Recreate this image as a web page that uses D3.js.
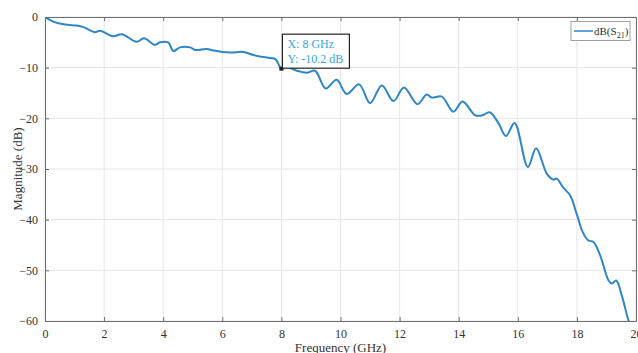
<!DOCTYPE html>
<html>
<head>
<meta charset="utf-8">
<style>
  body { margin: 0; background: #fff; }
  text { font-family: "Liberation Serif", "DejaVu Serif", serif; }
</style>
</head>
<body>
<svg id="chart" width="638" height="353"></svg>
<script src="https://d3js.org/d3.v7.min.js"></script>
<script>
// S21 magnitude
const freq = [0, 0.28, 0.68, 1.07, 1.3, 1.69, 1.86, 2.31, 2.6, 3.1, 3.35, 3.72, 3.89, 4.17, 4.34,
  4.57, 4.91, 5.08, 5.47, 5.7, 6.26, 6.71, 7.05, 7.62, 7.8, 8.0, 8.18, 8.52, 8.86, 9.14,
  9.5, 9.87, 10.21, 10.63, 11.0, 11.4, 11.79, 12.15, 12.6, 12.92, 13.09, 13.43, 13.82, 14.13,
  14.56, 14.8, 15.05, 15.35, 15.6, 15.89, 16.34, 16.62, 16.98, 17.21, 17.32, 17.54, 17.77,
  17.99, 18.2, 18.39, 18.56, 18.79, 19.07, 19.18, 19.33, 19.52, 19.74, 19.85, 20];
const s21 = [0, -0.9, -1.5, -1.7, -2.0, -3.0, -2.7, -3.8, -3.4, -4.9, -4.2, -5.5, -5.0, -5.0, -6.7,
  -6.0, -6.0, -6.5, -6.3, -6.6, -7.0, -6.9, -7.5, -8.1, -8.3, -10.2, -9.8, -10.6, -11.0, -10.6,
  -14.1, -12.4, -15.2, -13.3, -17.0, -13.5, -16.6, -13.9, -17.2, -15.3, -15.9, -15.7, -18.7, -16.7,
  -19.4, -19.4, -18.8, -21.0, -23.5, -20.9, -29.6, -25.9, -30.9, -32.1, -31.9, -33.7, -35.2,
  -38.8, -42.5, -44.1, -44.4, -47.1, -52.0, -52.6, -52.0, -55.0, -59.8, -61.5, -62];
const xTicks = [0, 2, 4, 6, 8, 10, 12, 14, 16, 18, 20];
const yTicks = [0, -10, -20, -30, -40, -50, -60];
const tip = {f: 8, db: -10.2};

const data = freq.map((f, i) => ({f: f, db: s21[i]}));

const margin = {top: 17, right: 2, bottom: 32, left: 45};
const W = 638, H = 353;
const w = W - margin.left - margin.right, h = H - margin.top - margin.bottom;

const svg = d3.select("#chart");
const g = svg.append("g").attr("transform", `translate(${margin.left},${margin.top})`);

const x = d3.scaleLinear().domain([0, 20]).range([0, w]);
const y = d3.scaleLinear().domain([-60, 0]).range([h, 0]);

// grid
g.selectAll(".gx").data(xTicks).enter().append("line")
  .attr("x1", d => x(d)).attr("x2", d => x(d)).attr("y1", 0).attr("y2", h)
  .style("stroke", "#e6e6e6").style("stroke-width", 1);
g.selectAll(".gy").data(yTicks).enter().append("line")
  .attr("x1", 0).attr("x2", w).attr("y1", d => y(d)).attr("y2", d => y(d))
  .style("stroke", "#e6e6e6").style("stroke-width", 1);

// axes (ticks inside, MATLAB style)
const axColor = "#6e6e6e";
const xAxis = g.append("g").attr("transform", `translate(0,${h})`)
  .call(d3.axisBottom(x).tickValues(xTicks).tickSizeInner(-4).tickSizeOuter(0).tickPadding(8));
const yAxis = g.append("g")
  .call(d3.axisLeft(y).tickValues(yTicks).tickSizeInner(-4).tickSizeOuter(0).tickPadding(7));
const xTop = g.append("g")
  .call(d3.axisTop(x).tickValues(xTicks).tickSizeInner(-4).tickSizeOuter(0).tickFormat(""));
const yRight = g.append("g").attr("transform", `translate(${w},0)`)
  .call(d3.axisRight(y).tickValues(yTicks).tickSizeInner(-4).tickSizeOuter(0).tickFormat(""));
[xAxis, yAxis, xTop, yRight].forEach(a => {
  a.selectAll("path, line").style("stroke", axColor);
  a.selectAll("text").style("font-size", "12px").style("fill", "#333")
    .style("font-family", "'Liberation Serif', serif");
});

// curve
g.append("clipPath").attr("id", "clip").append("rect").attr("width", w).attr("height", h);
const line = d3.line().x(d => x(d.f)).y(d => y(d.db)).curve(d3.curveCatmullRom.alpha(0.5));
g.append("path").datum(data).attr("d", line).attr("clip-path", "url(#clip)")
  .style("fill", "none").style("stroke", "#2f86c6").style("stroke-width", 2);

// axis labels
svg.append("text").attr("x", margin.left + w / 2).attr("y", 352).attr("text-anchor", "middle")
  .style("font-size", "13px").style("fill", "#333").text("Frequency (GHz)");
svg.append("text").attr("transform", `translate(22,${margin.top + h / 2}) rotate(-90)`)
  .attr("text-anchor", "middle").style("font-size", "13px").style("fill", "#333").text("Magnitude (dB)");

// legend
const lg = svg.append("g").attr("transform", "translate(571,21.5)");
lg.append("rect").attr("width", 59).attr("height", 19)
  .style("fill", "#fff").style("stroke", "#a0a0a0").style("stroke-width", 1);
lg.append("line").attr("x1", 3).attr("x2", 22).attr("y1", 9.5).attr("y2", 9.5)
  .style("stroke", "#2f86c6").style("stroke-width", 1.5);
const lt = lg.append("text").attr("x", 23).attr("y", 13).style("font-size", "11px").style("fill", "#333");
lt.append("tspan").text("dB(S");
lt.append("tspan").attr("dy", 3).style("font-size", "8px").text("21");
lt.append("tspan").attr("dy", -3).text(")");

// data tip
const tx = x(tip.f), ty = y(tip.db);
g.append("rect").attr("x", tx - 2).attr("y", ty - 2).attr("width", 4).attr("height", 4)
  .style("fill", "#222");
const tg = g.append("g").attr("transform", `translate(${tx + 1},${ty - 34.5})`);
tg.append("rect").attr("width", 67).attr("height", 34)
  .style("fill", "#fff").style("stroke", "#222").style("stroke-width", 1.2);
tg.append("text").attr("x", 5).attr("y", 14).style("font-size", "12px").style("fill", "#3aa6e0")
  .text(`X: ${tip.f} GHz`);
tg.append("text").attr("x", 5).attr("y", 29).style("font-size", "12px").style("fill", "#3aa6e0")
  .text(`Y: ${tip.db} dB`);
</script>
</body>
</html>
